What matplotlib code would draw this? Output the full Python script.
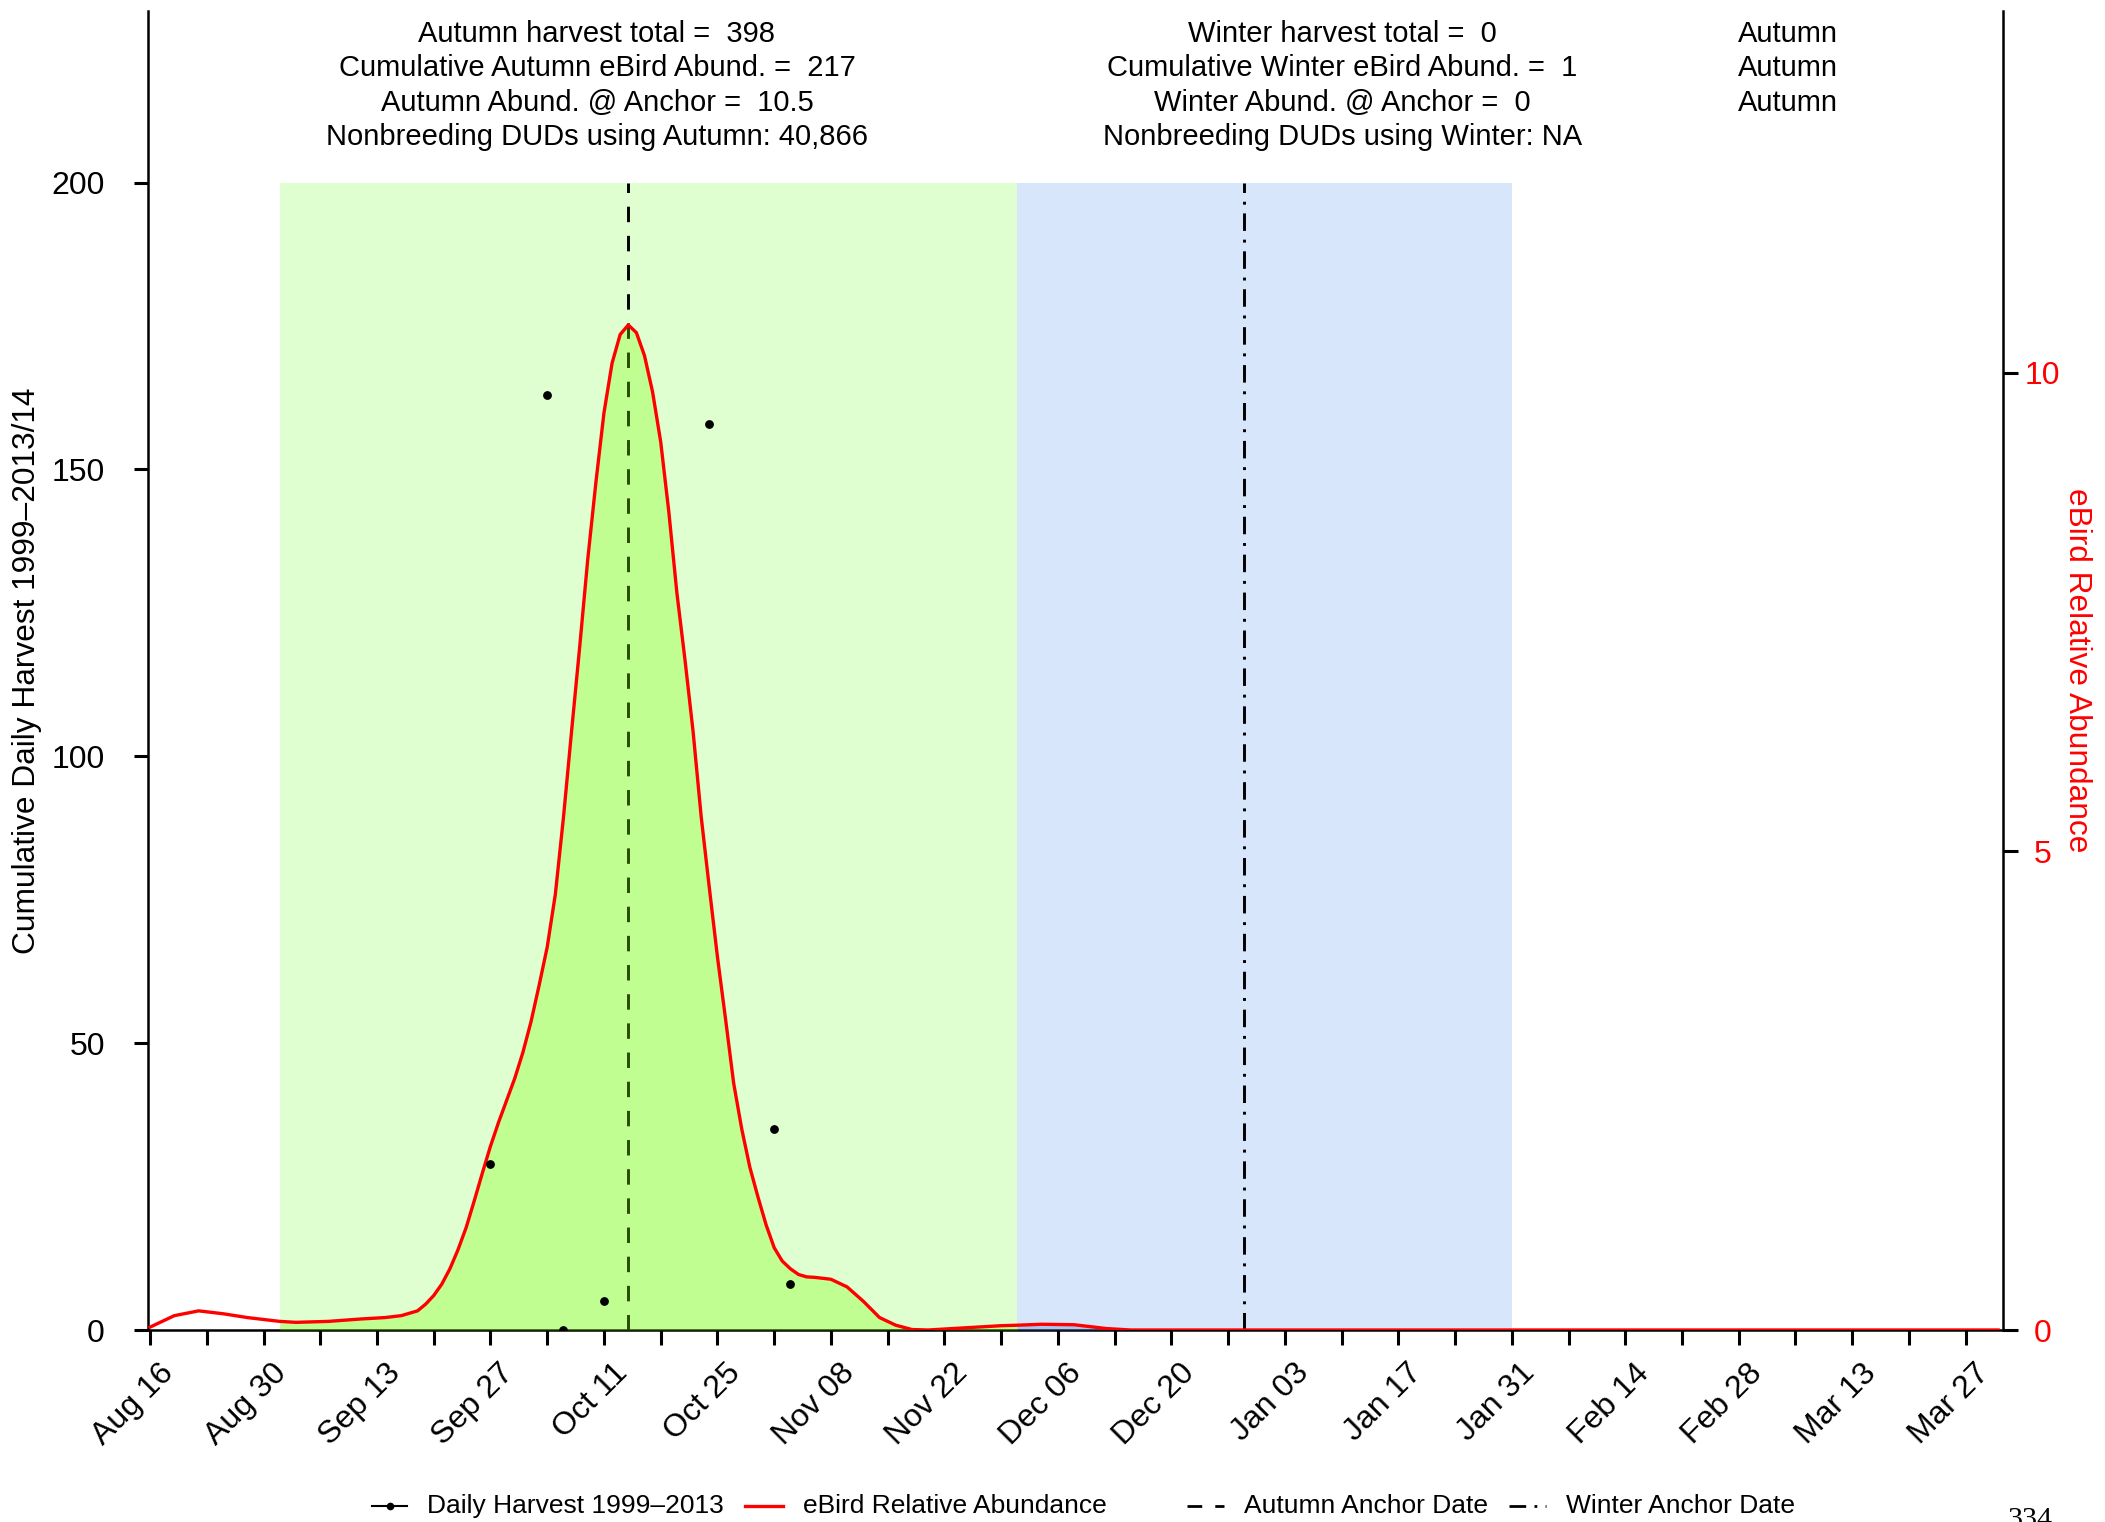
import numpy as np
import matplotlib
matplotlib.use('Agg')
import matplotlib.pyplot as plt
from matplotlib.transforms import ScaledTranslation

plt.rcParams['font.family'] = ['Liberation Sans', 'DejaVu Sans']

# x is days since Aug 16
tick_labels = ['Aug 16', 'Aug 30', 'Sep 13', 'Sep 27', 'Oct 11', 'Oct 25', 'Nov 08', 'Nov 22',
               'Dec 06', 'Dec 20', 'Jan 03', 'Jan 17', 'Jan 31', 'Feb 14', 'Feb 28', 'Mar 13', 'Mar 27']

# daily harvest (left axis)
harvest_days = [42, 49, 51, 56, 69, 77, 79]
harvest_vals = [29, 163, 0, 5, 158, 35, 8]

# eBird relative abundance (right axis)
abund_days = [0, 3, 6, 9, 12, 15, 16, 18, 22, 26, 29, 31, 33,
              34, 35, 36, 37, 38, 39, 40, 41, 42, 43, 44, 45, 46, 47, 48, 49, 50, 51, 52, 53,
              54, 55, 56, 57, 58, 59, 60, 61, 62, 63, 64, 65, 66, 67, 68, 69, 70, 71, 72, 73,
              74, 75, 76, 77, 78, 79, 80, 81, 82,
              84, 86, 88, 90, 92, 94, 96, 100, 105, 107, 110, 114, 118, 121, 168, 228]
abund_vals = [0.03, 0.15, 0.20, 0.17, 0.13, 0.10, 0.09, 0.08, 0.09, 0.115, 0.13, 0.15, 0.20,
              0.27, 0.36, 0.48, 0.64, 0.84, 1.07, 1.35, 1.64, 1.92, 2.17, 2.40, 2.63, 2.90, 3.22, 3.60, 4.00, 4.55, 5.35, 6.25, 7.13,
              8.05, 8.85, 9.58, 10.1, 10.4, 10.5, 10.42, 10.18, 9.80, 9.28, 8.55, 7.70, 7.00, 6.25, 5.36, 4.62, 3.90, 3.25, 2.58, 2.10,
              1.70, 1.39, 1.10, 0.86, 0.72, 0.64, 0.58, 0.555, 0.55,
              0.53, 0.45, 0.30, 0.13, 0.05, 0.005, 0.0, 0.02, 0.045, 0.05, 0.06, 0.055, 0.015, 0.0, 0.0, 0.0]

season_start = [16, 107]
season_end = [107, 168]
season_bg = ['#DFFFD0', '#D7E6FA']
season_fill = ['#7CFC00', '#4F7FE0']
anchor_days = [59, 135]
anchor_styles = [(0, (5.3, 4.7)), (0, (6, 3, 1, 3))]

header_cols = [
    ['Autumn harvest total =  398', 'Cumulative Autumn eBird Abund. =  217',
     'Autumn Abund. @ Anchor =  10.5', 'Nonbreeding DUDs using Autumn: 40,866'],
    ['Winter harvest total =  0', 'Cumulative Winter eBird Abund. =  1',
     'Winter Abund. @ Anchor =  0', 'Nonbreeding DUDs using Winter: NA'],
    ['Autumn', 'Autumn', 'Autumn'],
]
legend_labels = ['Daily Harvest 1999\u20132013', 'eBird Relative Abundance',
                 'Autumn Anchor Date', 'Winter Anchor Date']

W, H = 2105, 1522
fig = plt.figure(figsize=(W / 100, H / 100), dpi=100)
ax = fig.add_axes([148 / W, 1 - 1330 / H, (2003 - 148) / W, (1330 - 11) / H])
ax.set_xlim(-0.25, 228.6)
ax.set_ylim(0, 229.9)
ax2 = ax.twinx()

# season backgrounds and anchor lines
for s, e, c in zip(season_start, season_end, season_bg):
    ax.fill_between([s, e], 0, 200, color=c, lw=0, zorder=0)
for d, ls in zip(anchor_days, anchor_styles):
    ax.vlines(d, 0, 200, colors='black', linestyles=[ls], lw=2.1, zorder=2)

# abundance curve with seasonal fill
days = np.array(abund_days)
vals = np.array(abund_vals)
for s, e, c in zip(season_start, season_end, season_fill):
    m = (days >= s) & (days <= e)
    ax2.fill_between(days, 0, vals, where=m, color=c, alpha=0.3, lw=0, zorder=1)
ax2.plot(days, vals, color='red', lw=2.4, zorder=3)

# harvest points (left scale) drawn on top
ax2.plot(harvest_days, harvest_vals, 'o', color='black', ms=5.3, zorder=5,
         transform=ax.transData)
ax2.set_xlim(-0.25, 228.6)
ax2.set_ylim(0, 13.78)

for sp in ['top', 'right']:
    ax.spines[sp].set_visible(False)
for sp in ['top', 'left', 'bottom']:
    ax2.spines[sp].set_visible(False)
for sp in ['left', 'bottom']:
    ax.spines[sp].set_linewidth(1.8)
ax2.spines['right'].set_linewidth(1.8)

ax.set_yticks([0, 50, 100, 150, 200])
ax.tick_params(axis='y', length=10, width=2.2, labelsize=23, pad=21)
ax2.set_yticks([0, 5, 10])
ax2.tick_params(axis='y', length=10.5, width=2.2, labelsize=23, pad=18, colors='black',
                labelcolor='red')
for lab in ax2.get_yticklabels():
    lab.set_horizontalalignment('center')

xt = list(range(0, 225, 7))
ax.set_xticks(xt)
ax.set_xticklabels([tick_labels[i // 2] if i % 2 == 0 else '' for i in range(len(xt))])
ax.tick_params(axis='x', length=10.8, width=2.2, labelsize=23, pad=17)
off = ScaledTranslation(19 / 100, 0, fig.dpi_scale_trans)
for lab in ax.get_xticklabels():
    lab.set_rotation(45)
    lab.set_ha('right')
    lab.set_va('center')
    lab.set_rotation_mode('anchor')
    lab.set_transform(lab.get_transform() + off)

ax.set_ylabel('Cumulative Daily Harvest 1999\u20132013/14', fontsize=22.8, va='center')
ax.yaxis.set_label_coords((27 - 148) / 1855, 0.5)
ax2.set_ylabel('eBird Relative Abundance', fontsize=22.8, color='red', rotation=-90,
               va='center')
ax2.yaxis.set_label_coords((2077 - 148) / 1855, 0.5)

# overlay in pixel units for header and legend
ov = fig.add_axes([0, 0, 1, 1])
ov.set_xlim(0, W)
ov.set_ylim(H, 0)
ov.axis('off')

header_x = [597, 1342.5, 1788]
header_y = [33.6, 68.5, 103.4, 137]
for cx, lines in zip(header_x, header_cols):
    for ty, txt in zip(header_y, lines):
        ov.text(cx, ty, txt, ha='center', va='center', fontsize=21)

ly = 1506
leg_handle_x = [(372, 407), (745, 783), (1187, 1224), (1509, 1546)]
leg_text_x = [427, 803, 1244, 1566]
ov.plot(leg_handle_x[0], [ly, ly], color='black', lw=1.5)
ov.plot([sum(leg_handle_x[0]) / 2], [ly], 'o', color='black', ms=4.5)
ov.plot(leg_handle_x[1], [ly, ly], color='red', lw=2.4)
ov.plot(leg_handle_x[2], [ly, ly], color='black', lw=2, linestyle=anchor_styles[0])
ov.plot(leg_handle_x[3], [ly, ly], color='black', lw=2, linestyle=anchor_styles[1])
for tx, lab in zip(leg_text_x, legend_labels):
    ov.text(tx, ly, lab, ha='left', va='center', fontsize=19)

ov.text(2030, 1527, '334', ha='center', va='baseline', fontsize=21.6,
        family=['Liberation Serif', 'DejaVu Serif'])

fig.savefig('out.png', dpi=100)
